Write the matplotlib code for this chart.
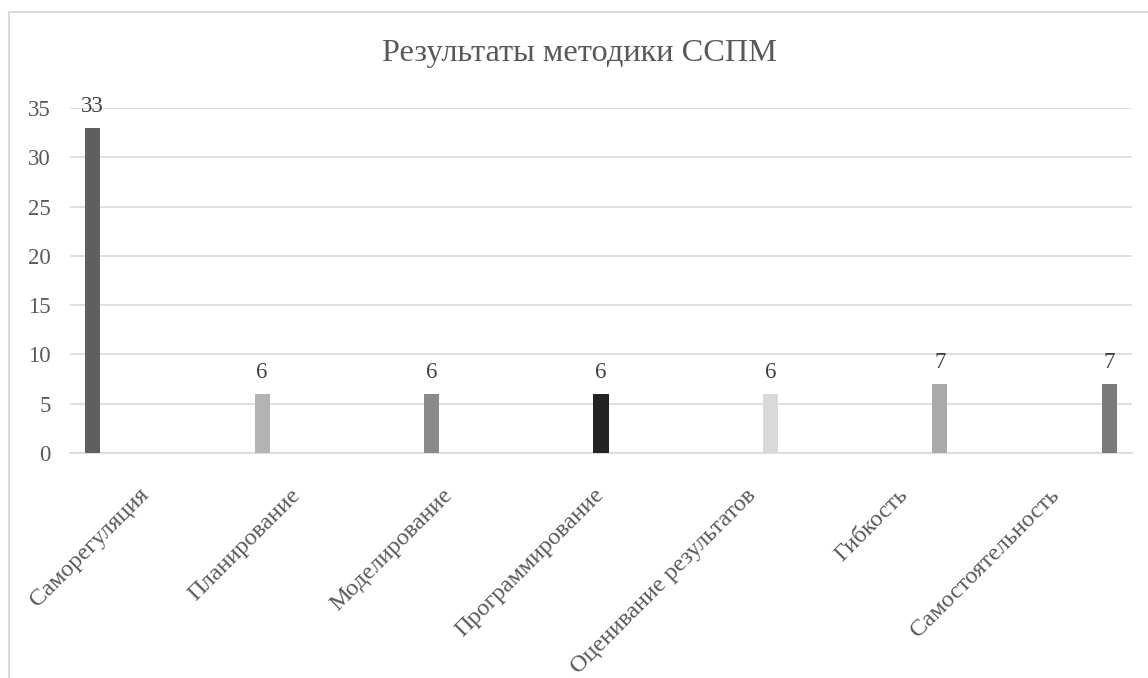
import matplotlib
matplotlib.use('Agg')
import matplotlib.pyplot as plt
from matplotlib.patches import Rectangle
import numpy as np

categories = ['Саморегуляция', 'Планирование', 'Моделирование', 'Программирование',
              'Оценивание результатов', 'Гибкость', 'Самостоятельность']
values = [33, 6, 6, 6, 6, 7, 7]
bar_colors = ['#5f5f5f', '#b3b3b3', '#8a8a8a', '#232323', '#d9d9d9', '#a9a9a9', '#7a7a7a']
title = 'Результаты методики ССПМ'

W, H, dpi = 1148, 678, 100
plt.rcParams['font.family'] = ['Liberation Serif', 'DejaVu Serif']

fig = plt.figure(figsize=(W / dpi, H / dpi), dpi=dpi)
fig.patch.set_facecolor('white')

# chart area border (cut off at right and bottom like the original)
fig.patches.append(Rectangle((8.5 / W, -0.05), 1.2, 1 - 11.5 / H + 0.05, transform=fig.transFigure,
                             fill=False, edgecolor='#d9d9d9', linewidth=1.5))

ax = fig.add_axes([70 / W, 225 / H, (1132 - 70) / W, (453 - 108) / H])

n = len(categories)
x = np.arange(n)
step = 0.1167
width = 0.099
for i, (v, c) in enumerate(zip(values, bar_colors)):
    xi = x[i] + (i - (n - 1) / 2) * step
    ax.bar(xi, v, width=width, color=c, zorder=3)
    ax.text(xi, v + 2.2, str(v), ha='center', va='center', fontsize=16.5, color='#404040')

ax.set_xlim(-0.5, n - 0.5)
ax.set_ylim(0, 35)
ax.set_yticks(range(0, 36, 5))
ax.yaxis.grid(True, color='#d9d9d9', linewidth=1.2, zorder=0)
ax.set_axisbelow(True)
for s in ['top', 'right', 'left']:
    ax.spines[s].set_visible(False)
ax.spines['bottom'].set_color('#d9d9d9')
ax.spines['bottom'].set_linewidth(1.2)
ax.tick_params(axis='both', length=0, labelsize=16.5, labelcolor='#595959')
ax.tick_params(axis='y', pad=14)

ax.set_xticks(x)
ax.set_xticklabels(categories, rotation=45, ha='right', va='center', rotation_mode='anchor',
                   fontsize=17.5)
ax.tick_params(axis='x', pad=28)

fig.text(580 / W, 1 - 53 / H, title, ha='center', va='center', fontsize=23.3, color='#595959')

fig.savefig('out.png', dpi=dpi)
